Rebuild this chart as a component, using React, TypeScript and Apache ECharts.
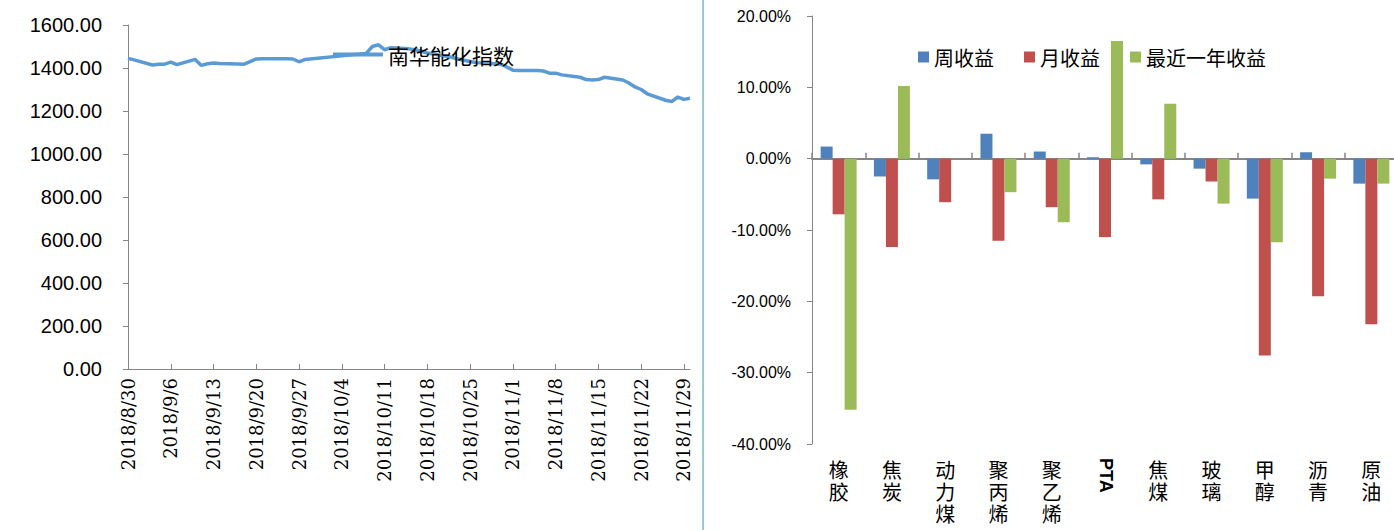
import React, { useEffect, useRef } from "react";
import * as echarts from "echarts";

// ---- Left chart data: 南华能化指数 (trading days) ----
const indexDates = [
  "2018/8/30", "2018/8/31",
  "2018/9/3", "2018/9/4", "2018/9/5", "2018/9/6", "2018/9/7",
  "2018/9/10", "2018/9/11", "2018/9/12", "2018/9/13", "2018/9/14",
  "2018/9/17", "2018/9/18", "2018/9/19", "2018/9/20", "2018/9/21",
  "2018/9/25", "2018/9/26", "2018/9/27", "2018/9/28",
  "2018/10/8", "2018/10/9", "2018/10/10", "2018/10/11", "2018/10/12",
  "2018/10/15", "2018/10/16", "2018/10/17", "2018/10/18", "2018/10/19",
  "2018/10/22", "2018/10/23", "2018/10/24", "2018/10/25", "2018/10/26",
  "2018/10/29", "2018/10/30", "2018/10/31", "2018/11/1", "2018/11/2",
  "2018/11/5", "2018/11/6", "2018/11/7", "2018/11/8", "2018/11/9",
  "2018/11/12", "2018/11/13", "2018/11/14", "2018/11/15", "2018/11/16",
  "2018/11/19", "2018/11/20", "2018/11/21", "2018/11/22", "2018/11/23",
  "2018/11/26", "2018/11/27", "2018/11/28", "2018/11/29", "2018/11/30",
];
const indexValues = [
  1445, 1438,
  1414, 1417, 1418, 1427, 1416,
  1440, 1412, 1420, 1423, 1421,
  1419, 1418, 1430, 1442, 1443,
  1443, 1442, 1429, 1440,
  1468, 1500, 1508, 1485, 1494,
  1489, 1485, 1478, 1470, 1465,
  1450, 1442, 1436, 1430, 1425,
  1420, 1418, 1405, 1390, 1388,
  1388, 1386, 1376, 1376, 1368,
  1357, 1346, 1344, 1346, 1357,
  1344, 1330, 1312, 1300, 1280,
  1250, 1244, 1265, 1254, 1259,
];
const indexName = "南华能化指数";
const leftYTicks = { min: 0, max: 1600, interval: 200 };
const startDate = "2018/8/30";
const endDate = "2018/11/30";

// ---- Right chart data: returns (%) ----
const categories = ["橡胶", "焦炭", "动力煤", "聚丙烯", "聚乙烯", "PTA", "焦煤", "玻璃", "甲醇", "沥青", "原油"];
const weekly = [1.7, -2.5, -2.9, 3.5, 1.0, 0.2, -0.8, -1.4, -5.6, 0.9, -3.5];
const monthly = [-7.8, -12.4, -6.1, -11.5, -6.8, -11.0, -5.7, -3.2, -27.6, -19.3, -23.2];
const yearly = [-35.2, 10.2, 0, -4.7, -8.9, 16.5, 7.7, -6.3, -11.7, -2.8, -3.5];
const seriesNames = ["周收益", "月收益", "最近一年收益"];
const rightYTicks = { min: -40, max: 20, interval: 10 };

const DAY = 86400000;
function toUTC(s: string) {
  const [y, m, d] = s.split("/").map(Number);
  return Date.UTC(y, m - 1, d);
}
function dayOffset(s: string) {
  return Math.round((toUTC(s) - toUTC(startDate)) / DAY);
}
function offsetToLabel(v: number) {
  const d = new Date(toUTC(startDate) + v * DAY);
  return `${d.getUTCFullYear()}/${d.getUTCMonth() + 1}/${d.getUTCDate()}`;
}

const AXIS_GREY = "#868686";
const SANS = "Liberation Sans";
const CJK = "Noto Sans CJK SC";

export default function App() {
  const ref = useRef<HTMLDivElement>(null);
  useEffect(() => {
    document.body.style.margin = "0";
    if (!ref.current) return;
    const chart = echarts.init(ref.current, undefined, { renderer: "svg" });
    const option: any = {
      animation: false,
      backgroundColor: "#fff",
      legend: [
        {
          data: [indexName],
          left: 328,
          top: 39,
          icon: "rect",
          itemWidth: 50,
          itemHeight: 4,
          itemGap: 7,
          textStyle: { fontSize: 21, color: "#000", fontFamily: CJK },
        },
        {
          data: seriesNames,
          left: 913,
          top: 42,
          icon: "rect",
          itemWidth: 11,
          itemHeight: 11,
          itemGap: 30,
          textStyle: { fontSize: 20, color: "#000", fontFamily: CJK },
        },
      ],
      grid: [
        { left: 128, top: 25, bottom: 161, right: 1394 - 690, containLabel: false, outerBoundsMode: "none" },
        { left: 812, top: 16, bottom: 86, right: -4, containLabel: false, outerBoundsMode: "none" },
      ],
      xAxis: [
        {
          gridIndex: 0,
          type: "value",
          min: 0,
          max: dayOffset(endDate),
          interval: 7,
          splitLine: { show: false },
          axisLine: { show: true, onZero: false, lineStyle: { color: AXIS_GREY, width: 1 } },
          axisTick: { show: true, inside: true, length: 5, lineStyle: { color: AXIS_GREY } },
          axisLabel: {
            rotate: 90,
            margin: 9,
            showMaxLabel: false,
            fontSize: 18,
            fontFamily: "DejaVu Serif",
            color: "#000",
            formatter: (v: number) => offsetToLabel(v),
          },
        },
        {
          // category labels at the bottom of the right plot
          gridIndex: 1,
          type: "category",
          data: categories,
          position: "bottom",
          axisLine: { show: false, onZero: false },
          axisTick: { show: false },
          axisLabel: {
            interval: 0,
            margin: 14,
            fontSize: 20,
            lineHeight: 22,
            fontFamily: CJK,
            color: "#000",
            verticalAlign: "top",
            formatter: (v: string) => (v === "PTA" ? "" : v.split("").join("\n")),
          },
        },
        {
          // zero line with category ticks
          gridIndex: 1,
          type: "category",
          data: categories,
          position: "bottom",
          axisLine: { show: true, onZero: true, lineStyle: { color: AXIS_GREY, width: 2 } },
          axisTick: { show: true, inside: true, length: 6, lineStyle: { color: AXIS_GREY, width: 1.5 } },
          axisLabel: { show: false },
        },
      ],
      yAxis: [
        {
          gridIndex: 0,
          type: "value",
          min: leftYTicks.min,
          max: leftYTicks.max,
          interval: leftYTicks.interval,
          splitLine: { show: false },
          axisLine: { show: true, lineStyle: { color: AXIS_GREY, width: 1 } },
          axisTick: { show: true, length: 5, lineStyle: { color: AXIS_GREY } },
          axisLabel: {
            margin: 26,
            fontSize: 20,
            fontFamily: SANS,
            color: "#000",
            formatter: (v: number) => v.toFixed(2),
          },
        },
        {
          gridIndex: 1,
          type: "value",
          min: rightYTicks.min,
          max: rightYTicks.max,
          interval: rightYTicks.interval,
          splitLine: { show: false },
          axisLine: { show: true, lineStyle: { color: AXIS_GREY, width: 1 } },
          axisTick: { show: true, length: 5, lineStyle: { color: AXIS_GREY } },
          axisLabel: {
            margin: 21,
            fontSize: 16,
            fontFamily: SANS,
            color: "#000",
            formatter: (v: number) => v.toFixed(2) + "%",
          },
        },
      ],
      series: [
        {
          name: indexName,
          type: "line",
          xAxisIndex: 0,
          yAxisIndex: 0,
          showSymbol: false,
          symbol: "none",
          color: "#5B9BD5",
          lineStyle: { width: 3.5, color: "#5B9BD5" },
          data: indexDates.map((d, i) => [dayOffset(d), indexValues[i]]),
        },
        ...[weekly, monthly, yearly].map((arr, k) => ({
          name: seriesNames[k],
          type: "bar",
          xAxisIndex: 1,
          yAxisIndex: 1,
          barWidth: 12,
          barGap: "0%",
          color: ["#4F81BD", "#C0504D", "#9BBB59"][k],
          itemStyle: { color: ["#4F81BD", "#C0504D", "#9BBB59"][k] },
          data: arr,
        })),
      ],
    };
    chart.setOption(option);

    const pta = chart.convertToPixel({ gridIndex: 1 } as any, ["PTA", rightYTicks.min]) as number[];
    chart.setOption({
      graphic: [
        {
          type: "line",
          shape: { x1: 703, y1: 0, x2: 703, y2: 530 },
          style: { stroke: "#93CDD1", lineWidth: 2 },
        },
        {
          type: "text",
          x: pta[0] + 1,
          y: pta[1] + 14,
          rotation: -Math.PI / 2,
          style: {
            text: "PTA",
            fontSize: 18,
            fontWeight: "bold",
            fontFamily: SANS,
            fill: "#000",
            textAlign: "left",
            textVerticalAlign: "middle",
          },
        },
      ],
    });
    return () => chart.dispose();
  }, []);
  return <div ref={ref} style={{ width: 1394, height: 530 }} />;
}
